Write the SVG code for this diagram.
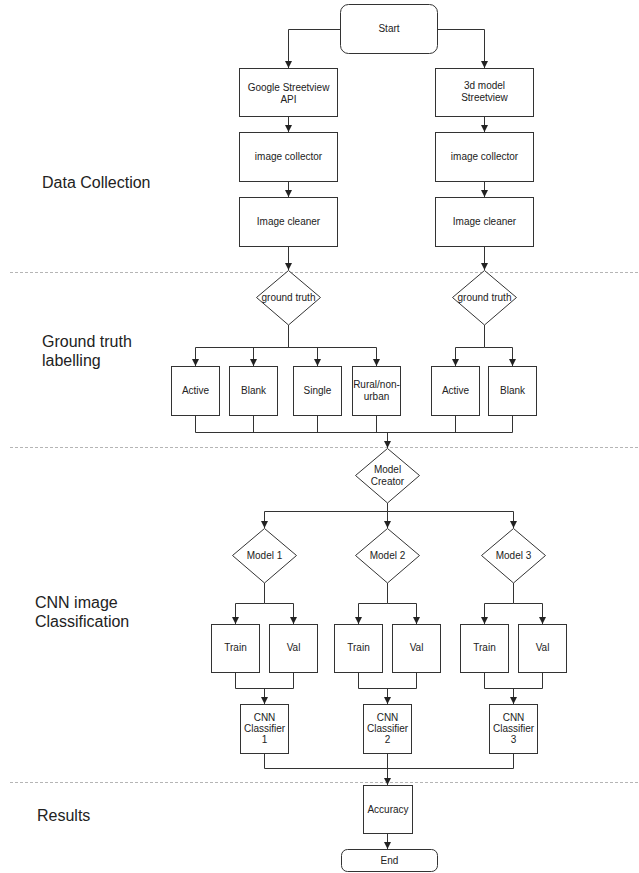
<svg xmlns="http://www.w3.org/2000/svg" width="639" height="873" viewBox="0 0 639 873">
<style>
.n{fill:#fff;stroke:#333;stroke-width:1}
.t{font-family:"Liberation Sans",Arial,sans-serif;font-size:10px;fill:#222;text-anchor:middle}
.s{font-family:"Liberation Sans",Arial,sans-serif;font-size:16px;fill:#222}
.c{fill:none;stroke:#333;stroke-width:1}
.sep{stroke:#b5b5b5;stroke-width:1;stroke-dasharray:3 2}
</style>
<defs>
<marker id="ah" markerUnits="userSpaceOnUse" markerWidth="8" markerHeight="8" refX="7" refY="3.5" orient="auto">
<path d="M0,0 L7,3.5 L0,7 z" fill="#222"/>
</marker>
</defs>
<rect width="639" height="873" fill="#fff"/>
<g id="separators">
<line class="sep" x1="10" y1="272.5" x2="639" y2="272.5"/>
<line class="sep" x1="10" y1="447.5" x2="639" y2="447.5"/>
<line class="sep" x1="10" y1="782.5" x2="639" y2="782.5"/>
</g>
<g id="section-labels">
<text class="s" x="42" y="188">Data Collection</text>
<text class="s" x="42" y="347">Ground truth</text>
<text class="s" x="42" y="366">labelling</text>
<text class="s" x="35" y="608">CNN image</text>
<text class="s" x="35" y="627">Classification</text>
<text class="s" x="37" y="821">Results</text>
</g>
<g id="connectors">
<path class="c" marker-end="url(#ah)" d="M340,29.5 H288.5 V68"/>
<path class="c" marker-end="url(#ah)" d="M437,29.5 H484.5 V68"/>
<path class="c" marker-end="url(#ah)" d="M288.5,116 V132"/>
<path class="c" marker-end="url(#ah)" d="M484.5,116 V132"/>
<path class="c" marker-end="url(#ah)" d="M288.5,181 V197"/>
<path class="c" marker-end="url(#ah)" d="M484.5,181 V197"/>
<path class="c" marker-end="url(#ah)" d="M288.5,246 V270"/>
<path class="c" marker-end="url(#ah)" d="M484.5,246 V270"/>
<path class="c" marker-end="url(#ah)" d="M288.5,325 V347.5 H195.5 V366"/>
<path class="c" marker-end="url(#ah)" d="M288.5,347.5 H253.5 V366"/>
<path class="c" marker-end="url(#ah)" d="M288.5,347.5 H317.5 V366"/>
<path class="c" marker-end="url(#ah)" d="M288.5,347.5 H376.5 V366"/>
<path class="c" marker-end="url(#ah)" d="M484.5,325 V347.5 H455.5 V366"/>
<path class="c" marker-end="url(#ah)" d="M484.5,347.5 H512.5 V366"/>
<path class="c" d="M195.5,415 V432.5 H512.5 V415 M253.5,415 V432.5 M317.5,415 V432.5 M376.5,415 V432.5 M455.5,415 V432.5"/>
<path class="c" marker-end="url(#ah)" d="M387.5,432.5 V448"/>
<path class="c" marker-end="url(#ah)" d="M387.5,503 V511.5 H264.5 V528"/>
<path class="c" marker-end="url(#ah)" d="M387.5,511.5 V528"/>
<path class="c" marker-end="url(#ah)" d="M387.5,511.5 H513.5 V528"/>
<path class="c" marker-end="url(#ah)" d="M264.5,583 V603.5 H235.5 V624"/>
<path class="c" marker-end="url(#ah)" d="M264.5,603.5 H293.5 V624"/>
<path class="c" marker-end="url(#ah)" d="M387.5,583 V603.5 H358.5 V624"/>
<path class="c" marker-end="url(#ah)" d="M387.5,603.5 H416.5 V624"/>
<path class="c" marker-end="url(#ah)" d="M513.5,583 V603.5 H484.5 V624"/>
<path class="c" marker-end="url(#ah)" d="M513.5,603.5 H542.5 V624"/>
<path class="c" d="M235.5,672 V688.5 H293.5 V672"/>
<path class="c" marker-end="url(#ah)" d="M264.5,688.5 V704"/>
<path class="c" d="M358.5,672 V688.5 H416.5 V672"/>
<path class="c" marker-end="url(#ah)" d="M387.5,688.5 V704"/>
<path class="c" d="M484.5,672 V688.5 H542.5 V672"/>
<path class="c" marker-end="url(#ah)" d="M513.5,688.5 V704"/>
<path class="c" d="M264.5,753 V768.5 H513.5 V753"/>
<path class="c" marker-end="url(#ah)" d="M387.5,753 V785"/>
<path class="c" marker-end="url(#ah)" d="M387.5,833 V849"/>
</g>
<g id="start"><rect class="n" x="340.5" y="4.5" width="97" height="49" rx="8"/><text class="t" x="389" y="32">Start</text></g>
<g id="google"><rect class="n" x="239.5" y="68.5" width="98" height="48"/><text class="t" x="288.5" y="91">Google Streetview</text><text class="t" x="288.5" y="103">API</text></g>
<g id="model3d"><rect class="n" x="435.5" y="68.5" width="98" height="48"/><text class="t" x="484.5" y="89">3d model</text><text class="t" x="484.5" y="101">Streetview</text></g>
<g id="collector1"><rect class="n" x="239.5" y="132.5" width="98" height="49"/><text class="t" x="288.5" y="160">image collector</text></g>
<g id="collector2"><rect class="n" x="435.5" y="132.5" width="98" height="49"/><text class="t" x="484.5" y="160">image collector</text></g>
<g id="cleaner1"><rect class="n" x="239.5" y="197.5" width="98" height="49"/><text class="t" x="288.5" y="225">Image cleaner</text></g>
<g id="cleaner2"><rect class="n" x="435.5" y="197.5" width="98" height="49"/><text class="t" x="484.5" y="225">Image cleaner</text></g>
<g id="gt1"><polygon class="n" points="288.5,270.5 320.5,297.5 288.5,325 256.5,297.5"/><text class="t" x="288.5" y="301">ground truth</text></g>
<g id="gt2"><polygon class="n" points="484.5,270.5 516.5,297.5 484.5,325 452.5,297.5"/><text class="t" x="484.5" y="301">ground truth</text></g>
<g id="active1"><rect class="n" x="171.5" y="366.5" width="48" height="49"/><text class="t" x="195.5" y="394">Active</text></g>
<g id="blank1"><rect class="n" x="229.5" y="366.5" width="48" height="49"/><text class="t" x="253.5" y="394">Blank</text></g>
<g id="single"><rect class="n" x="293.5" y="366.5" width="48" height="49"/><text class="t" x="317.5" y="394">Single</text></g>
<g id="rural"><rect class="n" x="352.5" y="366.5" width="48" height="49"/><text class="t" x="376.5" y="388">Rural/non-</text><text class="t" x="376.5" y="400">urban</text></g>
<g id="active2"><rect class="n" x="431.5" y="366.5" width="48" height="49"/><text class="t" x="455.5" y="394">Active</text></g>
<g id="blank2"><rect class="n" x="488.5" y="366.5" width="48" height="49"/><text class="t" x="512.5" y="394">Blank</text></g>
<g id="modelcreator"><polygon class="n" points="387.5,448.5 419.5,475.5 387.5,503 355.5,475.5"/><text class="t" x="387.5" y="473">Model</text><text class="t" x="387.5" y="485">Creator</text></g>
<g id="model1"><polygon class="n" points="264.5,528.5 296.5,555.5 264.5,583 232.5,555.5"/><text class="t" x="264.5" y="559">Model 1</text></g>
<g id="model2"><polygon class="n" points="387.5,528.5 419.5,555.5 387.5,583 355.5,555.5"/><text class="t" x="387.5" y="559">Model 2</text></g>
<g id="model3"><polygon class="n" points="513.5,528.5 545.5,555.5 513.5,583 481.5,555.5"/><text class="t" x="513.5" y="559">Model 3</text></g>
<g id="train1"><rect class="n" x="211.5" y="624.5" width="48" height="48"/><text class="t" x="235.5" y="651">Train</text></g>
<g id="val1"><rect class="n" x="269.5" y="624.5" width="48" height="48"/><text class="t" x="293.5" y="651">Val</text></g>
<g id="train2"><rect class="n" x="334.5" y="624.5" width="48" height="48"/><text class="t" x="358.5" y="651">Train</text></g>
<g id="val2"><rect class="n" x="392.5" y="624.5" width="48" height="48"/><text class="t" x="416.5" y="651">Val</text></g>
<g id="train3"><rect class="n" x="460.5" y="624.5" width="48" height="48"/><text class="t" x="484.5" y="651">Train</text></g>
<g id="val3"><rect class="n" x="518.5" y="624.5" width="48" height="48"/><text class="t" x="542.5" y="651">Val</text></g>
<g id="cnn1"><rect class="n" x="240.5" y="704.5" width="48" height="49"/><text class="t" x="264.5" y="721">CNN</text><text class="t" x="264.5" y="732">Classifier</text><text class="t" x="264.5" y="743">1</text></g>
<g id="cnn2"><rect class="n" x="363.5" y="704.5" width="48" height="49"/><text class="t" x="387.5" y="721">CNN</text><text class="t" x="387.5" y="732">Classifier</text><text class="t" x="387.5" y="743">2</text></g>
<g id="cnn3"><rect class="n" x="489.5" y="704.5" width="48" height="49"/><text class="t" x="513.5" y="721">CNN</text><text class="t" x="513.5" y="732">Classifier</text><text class="t" x="513.5" y="743">3</text></g>
<g id="accuracy"><rect class="n" x="363.5" y="785.5" width="49" height="48"/><text class="t" x="388" y="813">Accuracy</text></g>
<g id="end"><rect class="n" x="341.5" y="849.5" width="96" height="22" rx="6"/><text class="t" x="389.5" y="864">End</text></g>
</svg>
